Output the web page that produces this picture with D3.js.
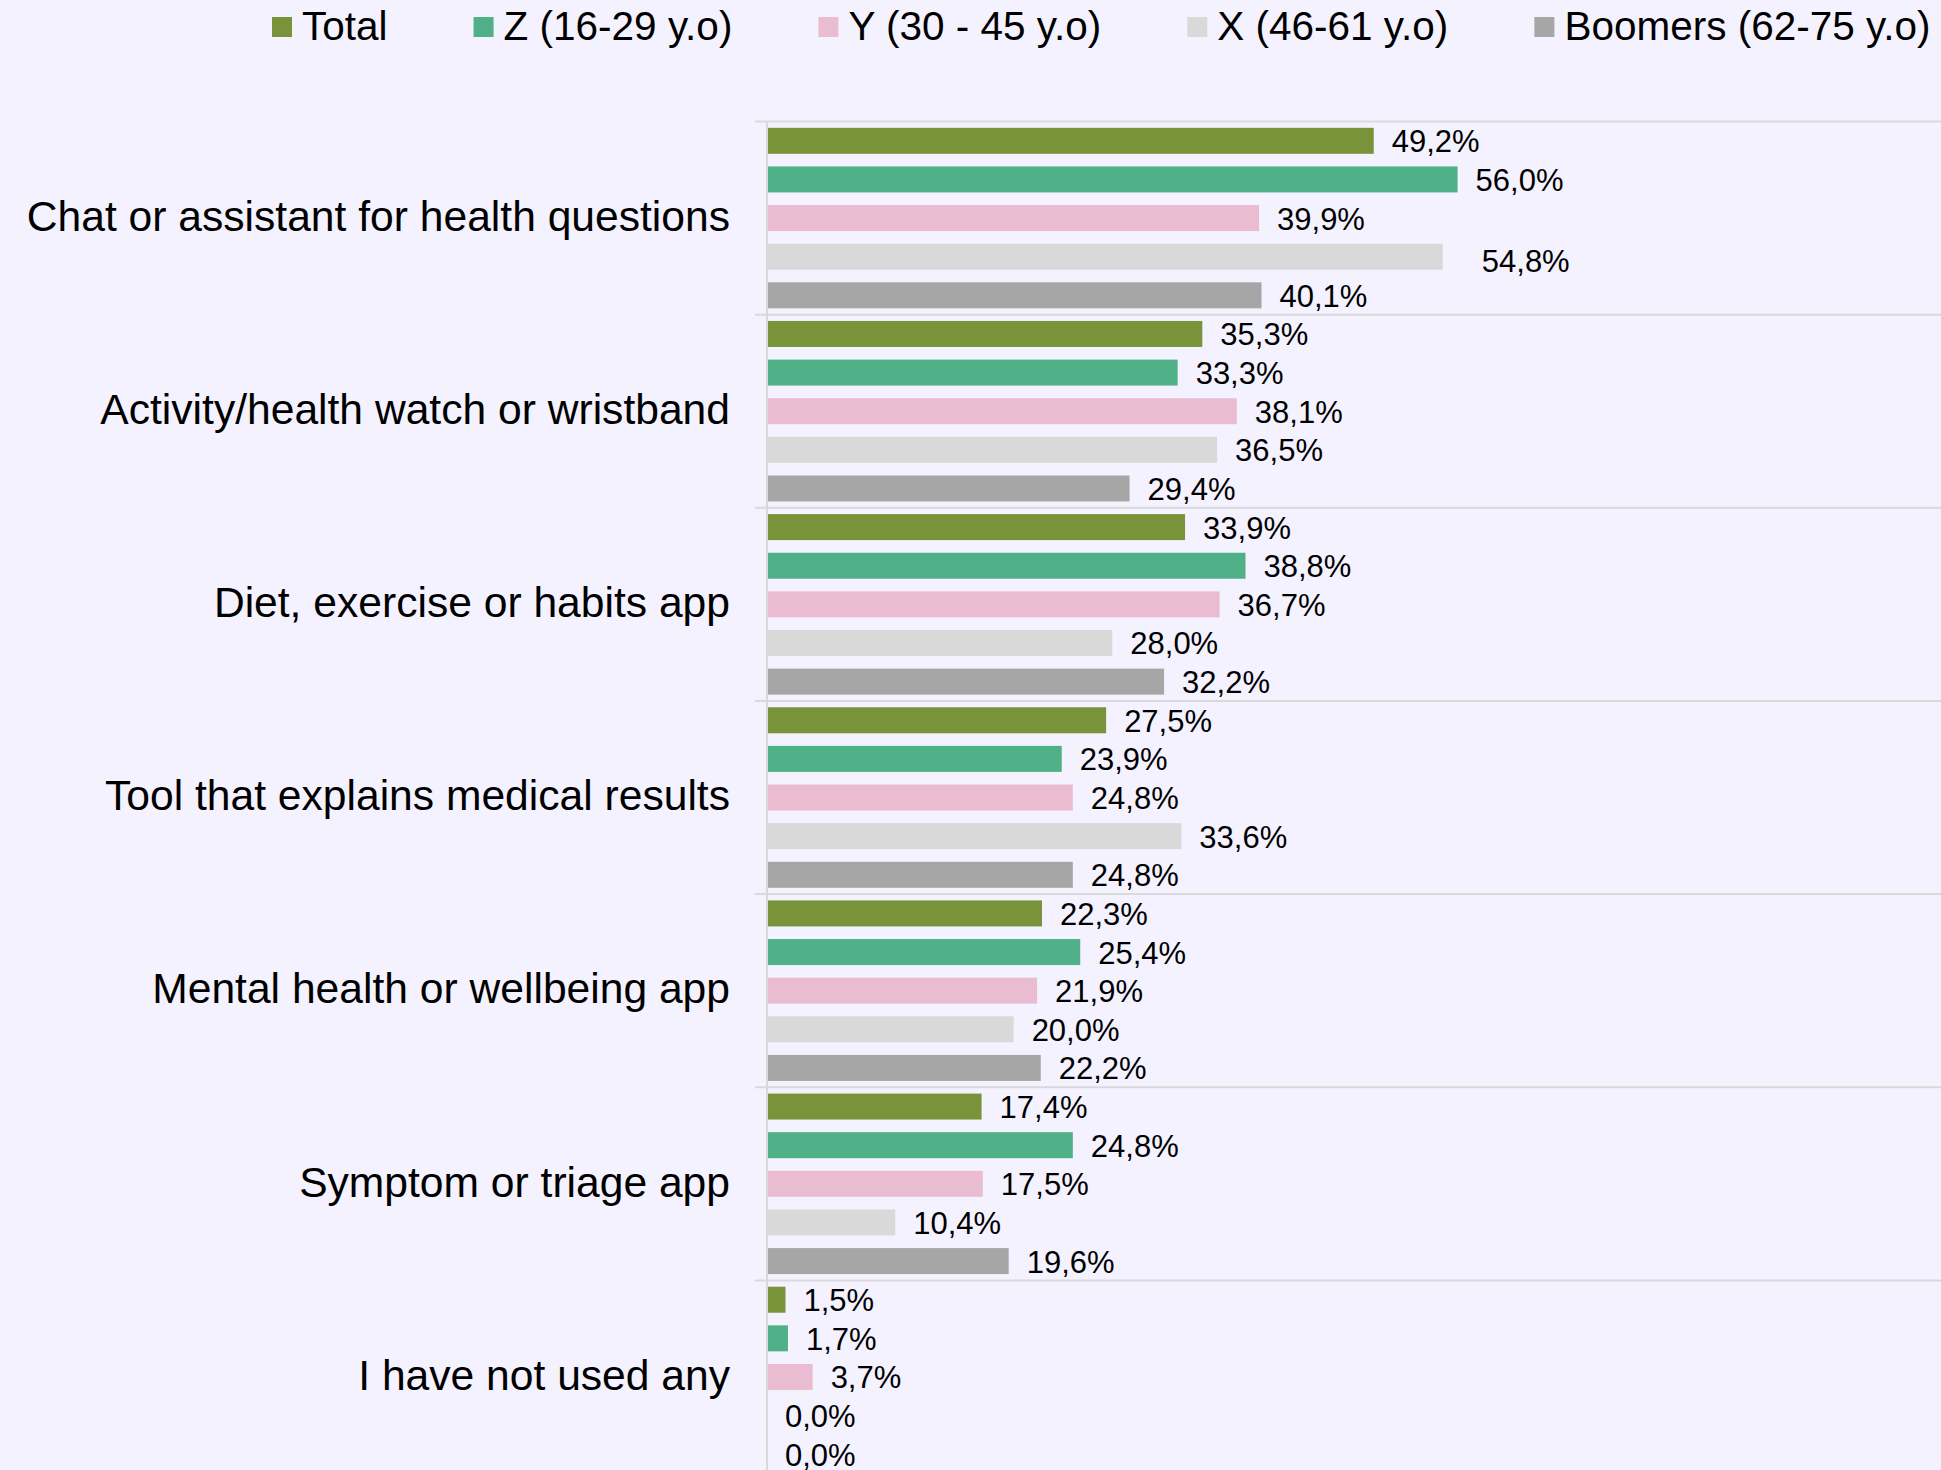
<!DOCTYPE html>
<html>
<head>
<meta charset="utf-8">
<script src="https://cdn.jsdelivr.net/npm/d3@7"></script>
<style>
  html, body { margin: 0; padding: 0; background: #F4F2FF; }
  svg { display: block; }
  text { font-family: "Liberation Sans", Arial, sans-serif; fill: #000; }
</style>
</head>
<body>
<svg id="chart" width="1941" height="1470"></svg>
<script>
const categories = [
  "Chat or assistant for health questions",
  "Activity/health watch or wristband",
  "Diet, exercise or habits app",
  "Tool that explains medical results",
  "Mental health or wellbeing app",
  "Symptom or triage app",
  "I have not used any"
];
const seriesNames = ["Total", "Z (16-29 y.o)", "Y (30 - 45 y.o)", "X (46-61 y.o)", "Boomers (62-75 y.o)"];
const seriesColors = ["#79933B", "#50B087", "#EABCD2", "#D9D9D9", "#A6A6A6"];
const totalValues   = [49.2, 35.3, 33.9, 27.5, 22.3, 17.4, 1.5];
const zValues       = [56.0, 33.3, 38.8, 23.9, 25.4, 24.8, 1.7];
const yValues       = [39.9, 38.1, 36.7, 24.8, 21.9, 17.5, 3.7];
const xValues       = [54.8, 36.5, 28.0, 33.6, 20.0, 10.4, 0.0];
const boomerValues  = [40.1, 29.4, 32.2, 24.8, 22.2, 19.6, 0.0];
const seriesValues = [totalValues, zValues, yValues, xValues, boomerValues];

(function () {
const W = 1941, H = 1470;
const plotLeft = 767, plotRight = 1941, plotTop = 121.5, bandH = 193.15;
const svg = d3.select("#chart");
svg.append("rect").attr("width", W).attr("height", H).attr("fill", "#F4F2FF");

const x = d3.scaleLinear().domain([0, 95.2]).range([plotLeft, plotRight]);
const y0 = d3.scaleBand().domain(categories).range([plotTop, plotTop + bandH * categories.length]).padding(0);
const y1 = d3.scaleBand().domain(seriesNames).range([0, y0.bandwidth()]).paddingInner(0.327).paddingOuter(0.1635);

// separators (band boundaries incl. small ticks left of axis)
const seps = d3.range(categories.length + 1).map(i => plotTop + i * bandH);
svg.append("g").selectAll("line").data(seps).join("line")
  .attr("x1", plotLeft - 12).attr("x2", plotRight)
  .attr("y1", d => d).attr("y2", d => d)
  .attr("stroke", "#D9D9D9").attr("stroke-width", 2);

// axis line
svg.append("line").attr("x1", plotLeft).attr("x2", plotLeft)
  .attr("y1", plotTop).attr("y2", H)
  .attr("stroke", "#D9D9D9").attr("stroke-width", 2);

// category labels
svg.append("g").selectAll("text").data(categories).join("text")
  .attr("x", 730)
  .attr("y", d => y0(d) + y0.bandwidth() / 2)
  .attr("dy", "0.3em")
  .attr("text-anchor", "end")
  .style("font-size", "42.6px")
  .text(d => d);

const fmt = v => v.toFixed(1).replace(".", ",") + "%";
const labelNudge = { "0-3": 21 };

const groups = svg.append("g").selectAll("g").data(categories).join("g")
  .attr("transform", d => `translate(0,${y0(d)})`);

groups.each(function(cat, ci) {
  const g = d3.select(this);
  seriesNames.forEach((s, si) => {
    const v = seriesValues[si][ci];
    const yy = y1(s);
    if (v > 0) {
      g.append("rect")
        .attr("x", x(0) + 1)
        .attr("y", yy)
        .attr("width", Math.max(0, x(v) - x(0) - 1))
        .attr("height", y1.bandwidth())
        .attr("fill", seriesColors[si]);
    }
    const nudge = labelNudge[ci + "-" + si] || 0;
    g.append("text")
      .attr("x", x(v) + 18 + nudge)
      .attr("y", yy + y1.bandwidth() / 2 + (nudge ? 4 : 0))
      .attr("dy", "0.37em")
      .style("font-size", "31px")
      .text(fmt(v));
  });
});

// legend
const legend = svg.append("g");
let lx = 272;
seriesNames.forEach((s, i) => {
  legend.append("rect").attr("x", lx).attr("y", 17).attr("width", 20).attr("height", 20)
    .attr("fill", seriesColors[i]);
  const t = legend.append("text").attr("x", lx + 30).attr("y", 40)
    .style("font-size", "40.5px").text(s);
  const w = t.node().getComputedTextLength();
  lx = lx + 30 + w + 86;
});
})();
</script>
</body>
</html>
